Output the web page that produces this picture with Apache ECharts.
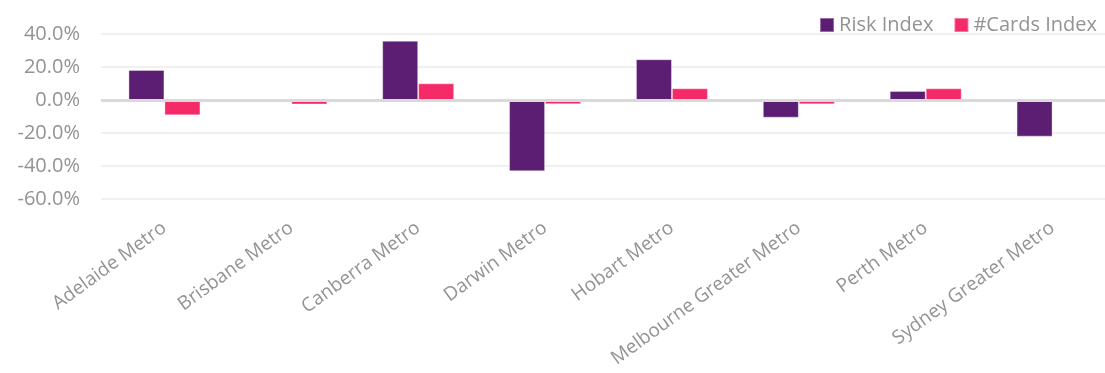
<!DOCTYPE html>
<html>
<head>
<meta charset="utf-8">
<script src="https://cdn.jsdelivr.net/npm/echarts@6/dist/echarts.min.js"></script>
<style>
  html, body { margin: 0; padding: 0; background: #ffffff; overflow: hidden; }
  /* the plot area runs slightly past the right edge of the window */
  #chart { width: 1116px; height: 373px; }
</style>
</head>
<body>
<div id="chart"></div>
<script>
// Metro regions and their index changes (percent)
const regions = ['Adelaide Metro', 'Brisbane Metro', 'Canberra Metro', 'Darwin Metro',
                 'Hobart Metro', 'Melbourne Greater Metro', 'Perth Metro', 'Sydney Greater Metro'];
const riskIndex  = [18.2, -0.5, 35.9, -43.2, 24.7, -10.7, 5.5, -22.2];
const cardsIndex = [-9.3, -2.7, 10.1, -2.5, 7.1, -2.6, 7.1, -0.3];
const seriesNames = ['Risk Index', '#Cards Index'];
const yTicks = { min: -60, max: 40, step: 20 };

const FONT = '"Open Sans", "Noto Sans", sans-serif';
const GREY = '#939393';

const chart = echarts.init(document.getElementById('chart'), null, { renderer: 'canvas' });

chart.setOption({
  animation: false,
  backgroundColor: '#ffffff',
  color: ['#5b1e73', '#f52a69'],
  legend: {
    right: 14,
    top: 10,
    icon: 'rect',
    itemWidth: 14,
    itemHeight: 14,
    itemGap: 20,
    textStyle: { color: GREY, fontFamily: FONT, fontSize: 20 },
    data: seriesNames
  },
  grid: { left: 101, right: 0, top: 34, height: 165, containLabel: false },
  xAxis: {
    type: 'category',
    data: regions,
    axisLine: { show: false },
    axisTick: { show: false },
    axisLabel: {
      rotate: 36,
      margin: 27,
      interval: 0,
      color: GREY,
      fontFamily: FONT,
      fontSize: 19
    }
  },
  yAxis: {
    type: 'value',
    min: yTicks.min,
    max: yTicks.max,
    interval: yTicks.step,
    axisLine: { show: false },
    axisTick: { show: false },
    axisLabel: {
      margin: 21,
      color: GREY,
      fontFamily: FONT,
      fontSize: 20,
      formatter: v => v.toFixed(1) + '%'
    },
    splitLine: { lineStyle: { color: '#f0f0f0', width: 2 } }
  },
  series: [
    {
      name: seriesNames[0],
      type: 'bar',
      data: riskIndex,
      barWidth: 36,
      barGap: '0%',
      itemStyle: { borderColor: 'rgba(255,255,255,0.35)', borderWidth: 1 },
      markLine: {
        silent: true,
        symbol: 'none',
        label: { show: false },
        lineStyle: { color: '#d9d9d9', width: 3, type: 'solid' },
        data: [{ yAxis: 0 }]
      }
    },
    {
      name: seriesNames[1],
      type: 'bar',
      data: cardsIndex,
      barWidth: 36,
      itemStyle: { borderColor: 'rgba(255,255,255,0.35)', borderWidth: 1 }
    }
  ]
});
</script>
</body>
</html>
